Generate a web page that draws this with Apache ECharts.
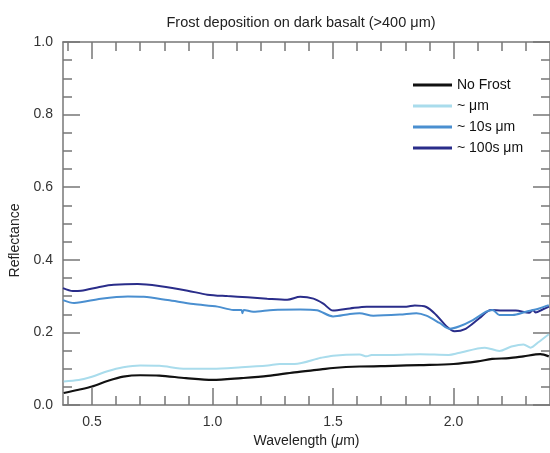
<!DOCTYPE html>
<html>
<head>
<meta charset="utf-8">
<script src="https://cdn.jsdelivr.net/npm/echarts@6/dist/echarts.min.js"></script>
<style>
  html, body { margin: 0; padding: 0; background: #fff; }
  #mainChart { width: 550px; height: 453px; }
</style>
</head>
<body>
<div id="mainChart"></div>
<script>
// series names
var legends = ['No Frost', '~ μm', '~ 10s μm', '~ 100s μm'];

// [wavelength (um), reflectance]
var noFrost = [
    [0.383, 0.033], [0.445, 0.042], [0.50, 0.051], [0.564, 0.066], [0.63, 0.078],
    [0.70, 0.082], [0.78, 0.081], [0.89, 0.074], [1.00, 0.069], [1.12, 0.074],
    [1.23, 0.080], [1.34, 0.090], [1.45, 0.098], [1.50, 0.102], [1.61, 0.106],
    [1.75, 0.108], [1.86, 0.110], [2.00, 0.113], [2.10, 0.120], [2.16, 0.127],
    [2.23, 0.129], [2.29, 0.134], [2.36, 0.140], [2.395, 0.134]
];
var microFrost = [
    [0.383, 0.065], [0.445, 0.069], [0.50, 0.078], [0.564, 0.093], [0.63, 0.104],
    [0.70, 0.109], [0.78, 0.108], [0.89, 0.100], [1.00, 0.100], [1.12, 0.104],
    [1.23, 0.109], [1.28, 0.113], [1.34, 0.113], [1.45, 0.130], [1.50, 0.136],
    [1.61, 0.139], [1.64, 0.134], [1.66, 0.138], [1.75, 0.138], [1.86, 0.140],
    [1.98, 0.138], [2.02, 0.143], [2.13, 0.158], [2.19, 0.149], [2.24, 0.161],
    [2.29, 0.167], [2.32, 0.158], [2.35, 0.172], [2.395, 0.195]
];
var tensFrost = [
    [0.38, 0.289], [0.426, 0.281], [0.537, 0.293], [0.649, 0.299], [0.715, 0.298],
    [0.814, 0.289], [0.921, 0.278], [1.021, 0.271], [1.087, 0.262], [1.12, 0.262],
    [1.124, 0.253], [1.13, 0.262], [1.169, 0.257], [1.252, 0.262], [1.364, 0.263],
    [1.433, 0.261], [1.50, 0.244], [1.57, 0.251], [1.61, 0.253], [1.667, 0.246],
    [1.777, 0.249], [1.846, 0.253], [1.887, 0.246], [1.942, 0.226], [1.983, 0.210],
    [2.025, 0.217], [2.08, 0.234], [2.135, 0.257], [2.162, 0.262], [2.19, 0.248],
    [2.245, 0.248], [2.30, 0.257], [2.355, 0.266], [2.395, 0.275]
];
var hundredsFrost = [
    [0.38, 0.322], [0.421, 0.314], [0.455, 0.315], [0.537, 0.326], [0.591, 0.331],
    [0.69, 0.333], [0.785, 0.327], [0.897, 0.315], [0.979, 0.304], [1.062, 0.300],
    [1.145, 0.297], [1.227, 0.293], [1.31, 0.290], [1.364, 0.298], [1.419, 0.293],
    [1.46, 0.279], [1.50, 0.260], [1.57, 0.266], [1.64, 0.271], [1.722, 0.271],
    [1.804, 0.271], [1.839, 0.274], [1.887, 0.270], [1.928, 0.248], [1.97, 0.217],
    [2.004, 0.203], [2.05, 0.210], [2.107, 0.239], [2.155, 0.262], [2.203, 0.260],
    [2.258, 0.260], [2.313, 0.254], [2.33, 0.262], [2.34, 0.255], [2.369, 0.263],
    [2.396, 0.271]
];

var colors = ['#111111', '#a9dcec', '#4a8fd0', '#2a2d8a'];
var xMajor = [0.5, 1.0, 1.5, 2.0];
var xMinor = [0.4, 0.6, 0.7, 0.8, 0.9, 1.1, 1.2, 1.3, 1.4, 1.6, 1.7, 1.8, 1.9, 2.1, 2.2, 2.3];

var fontFamily = 'Liberation Sans, Arial, sans-serif';
var axisColor = '#777';

function xAxisDef(pos, ticks, len, showLine, showLabel) {
    return {
        type: 'value',
        position: pos,
        min: 0.38,
        max: 2.4,
        gridIndex: 0,
        axisLine: {show: showLine, onZero: false, lineStyle: {color: axisColor, width: 1.5}},
        axisTick: {show: true, inside: true, length: len, customValues: ticks,
            lineStyle: {color: axisColor, width: 1.5}},
        axisLabel: {show: showLabel, customValues: ticks, margin: 10,
            color: '#333', fontSize: 14, fontFamily: fontFamily,
            formatter: function (v) { return v.toFixed(1); }},
        splitLine: {show: false}
    };
}

function yAxisDef(pos, showLabel) {
    return {
        type: 'value',
        position: pos,
        min: 0,
        max: 1,
        interval: 0.2,
        axisLine: {show: true, onZero: false, lineStyle: {color: axisColor, width: 1.5}},
        axisTick: {show: true, inside: true, length: 17, lineStyle: {color: axisColor, width: 1.5}},
        minorTick: {show: true, splitNumber: 4, length: 9, lineStyle: {color: axisColor, width: 1.5}},
        axisLabel: {show: showLabel, margin: 10, color: '#333', fontSize: 14, fontFamily: fontFamily,
            formatter: function (v) { return v.toFixed(1); }},
        splitLine: {show: false},
        minorSplitLine: {show: false}
    };
}

var xBottom = xAxisDef('bottom', xMajor, 17, true, true);
xBottom.name = 'Wavelength ({i|μ}m)';
xBottom.nameLocation = 'middle';
xBottom.nameGap = 29;
xBottom.nameTextStyle = {color: '#222', fontSize: 14, fontFamily: fontFamily,
    rich: {i: {fontStyle: 'italic', fontSize: 14, fontFamily: fontFamily, color: '#222'}}};

var yLeft = yAxisDef('left', true);
yLeft.name = 'Reflectance';
yLeft.nameLocation = 'middle';
yLeft.nameGap = 41;
yLeft.nameTextStyle = {color: '#222', fontSize: 14, fontFamily: fontFamily, padding: [0, 34, 0, 0]};

var seriesData = [noFrost, microFrost, tensFrost, hundredsFrost];
var series = [];
for (var i = seriesData.length - 1; i >= 0; i--) {
    series.push({
        name: legends[i],
        type: 'line',
        data: seriesData[i],
        showSymbol: false,
        symbol: 'none',
        smooth: 0.3,
        xAxisIndex: 0,
        yAxisIndex: 0,
        lineStyle: {color: colors[i], width: i === 0 ? 2.2 : 2},
        itemStyle: {color: colors[i]},
        z: 3
    });
}

var myChart = echarts.init(document.getElementById('mainChart'));
myChart.setOption({
    animation: false,
    title: {
        text: 'Frost deposition on dark basalt (>400 μm)',
        left: 296,
        top: 10,
        textAlign: 'center',
        textStyle: {fontSize: 14.5, fontWeight: 'normal', color: '#222', fontFamily: fontFamily}
    },
    legend: {
        data: legends,
        orient: 'vertical',
        left: 413,
        top: 78,
        padding: 0,
        itemWidth: 39,
        itemHeight: 3,
        itemGap: 7,
        icon: 'rect',
        textStyle: {fontSize: 14, color: '#111', fontFamily: fontFamily}
    },
    grid: {left: 62, top: 42, width: 489, height: 372, containLabel: false},
    xAxis: [
        xBottom,
        xAxisDef('bottom', xMinor, 9, false, false),
        xAxisDef('top', xMajor, 17, true, false),
        xAxisDef('top', xMinor, 9, false, false)
    ],
    yAxis: [yLeft, yAxisDef('right', false)],
    series: series
});
</script>
</body>
</html>
